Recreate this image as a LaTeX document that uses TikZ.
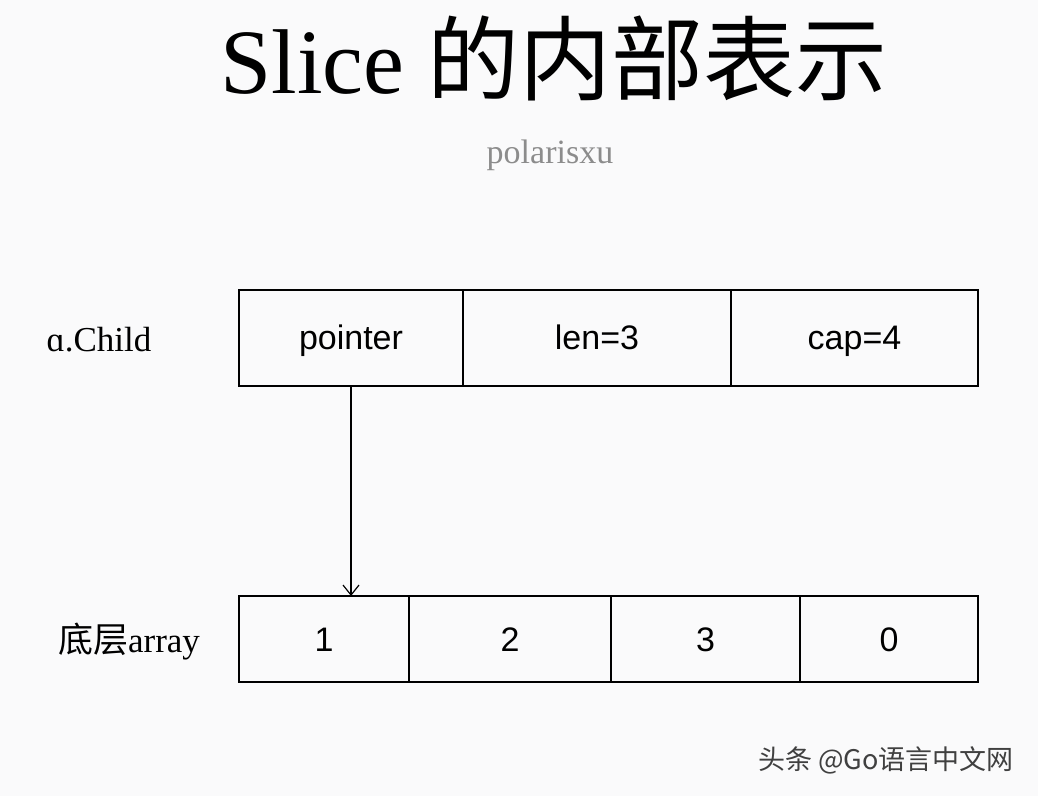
\documentclass[tikz,border=0pt]{standalone}
\usepackage{fontspec}
\setmainfont{Liberation Serif}
\setsansfont{Liberation Sans}
\newfontfamily\cjk{Noto Sans CJK SC}
\usetikzlibrary{positioning,arrows.meta}
\definecolor{pagebg}{RGB}{250,250,251}
\definecolor{subgray}{RGB}{140,140,140}

\begin{document}
\begin{tikzpicture}[
    x=0.5pt, y=-0.5pt,
    node distance=0pt,
    cellbox/.style={
        draw,
        line width=1pt,
        inner sep=0pt,
        outer sep=0pt,
        text height=13.5pt,
        text depth=1.5pt,
        font=\sffamily\fontsize{17}{20}\selectfont
    },
    toprow/.style={cellbox, minimum height=48pt},
    botrow/.style={cellbox, minimum height=43pt},
    rowlabel/.style={font=\fontsize{17.5}{20}\selectfont},
    ptrarrow/.style={-{Straight Barb[length=5pt,width=8pt]}, line width=0.6pt}
]
\fill[pagebg] (0,0) rectangle (1038,796);
\useasboundingbox (0,0) rectangle (1038,796);

% title
\node[font=\fontsize{46}{50}\selectfont] (title) at (554,58) {Slice {\cjk 的内部表示}};
\node[font=\fontsize{17}{20}\selectfont, text=subgray] (author) at (550,155) {polarisxu};

% slice header
\node[toprow, minimum width=112pt] (ptr) at (351,338) {pointer};
\node[toprow, minimum width=134pt, right=of ptr] (len) {len=3};
\node[toprow, minimum width=123.5pt, right=of len] (cap) {cap=4};
\node[rowlabel] (child) at (99,340) {ɑ.Child};

% backing array
\node[botrow, minimum width=85pt] (e1) at (324,639) {1};
\node[botrow, minimum width=101pt, right=of e1] (e2) {2};
\node[botrow, minimum width=94.5pt, right=of e2] (e3) {3};
\node[botrow, minimum width=89pt, right=of e3] (e4) {0};
\node[rowlabel] (arr) at (129,642) {{\cjk 底层}array};

\draw[ptrarrow] (ptr.south) -- (ptr.south |- e1.north);

% watermark
\node[font=\cjk\fontsize{13.5}{16}\selectfont, text=black!75] (mark) at (886,760) {头条 @Go语言中文网};
\end{tikzpicture}
\end{document}
